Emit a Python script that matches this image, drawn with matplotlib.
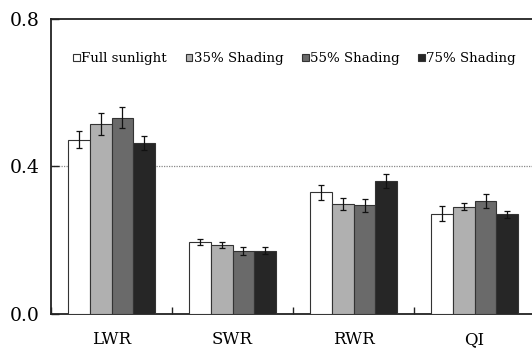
import matplotlib.pyplot as plt
import numpy as np

plt.rcParams["font.family"] = ["DejaVu Serif"]

# Root trait ratios under four light treatments
traits = ["LWR", "SWR", "RWR", "QI"]
treatments = ["Full sunlight", "35% Shading", "55% Shading", "75% Shading"]
means = {
    "Full sunlight": [0.473, 0.195, 0.330, 0.272],
    "35% Shading": [0.515, 0.187, 0.298, 0.291],
    "55% Shading": [0.532, 0.172, 0.295, 0.307],
    "75% Shading": [0.465, 0.172, 0.362, 0.270],
}
errors = {
    "Full sunlight": [0.022, 0.009, 0.020, 0.020],
    "35% Shading": [0.030, 0.009, 0.017, 0.010],
    "55% Shading": [0.028, 0.011, 0.018, 0.019],
    "75% Shading": [0.019, 0.009, 0.019, 0.009],
}
colors = ["#ffffff", "#b0b0b0", "#6a6a6a", "#262626"]


def setup_plot():
    fig = plt.figure(figsize=(5.32, 3.51), dpi=100)
    ax = fig.add_axes([0.0959, 0.1054, 0.9101, 0.8405])
    return fig, ax


if __name__ == "__main__":
    fig, ax = setup_plot()

    x = np.arange(len(traits))
    width = 0.18
    for i, (name, c) in enumerate(zip(treatments, colors)):
        pos = x + (i - 1.5) * width
        ax.bar(pos, means[name], width, color=c, edgecolor="#333333",
               linewidth=0.8, label=name, zorder=3)
        ax.errorbar(pos, means[name], yerr=errors[name], fmt="none",
                    ecolor="#111111", elinewidth=0.9, capsize=2.5,
                    capthick=0.9, zorder=4)

    ax.set_xlim(-0.5, 3.5)
    ax.set_ylim(0, 0.8)

    # group separators as inward ticks, labels on the group centres
    ax.set_xticks(np.arange(-0.5, 3.6, 1.0))
    ax.set_xticklabels([])
    ax.tick_params(axis="x", which="major", direction="in", length=5,
                   width=1.0, color="#222222")
    ax.set_xticks(x, minor=True)
    ax.set_xticklabels(traits, minor=True, fontsize=12)
    ax.tick_params(axis="x", which="minor", length=0, pad=12)

    ax.set_yticks([0.0, 0.4, 0.8])
    ax.set_yticklabels(["0.0", "0.4", "0.8"], fontsize=13.5)
    ax.tick_params(axis="y", direction="in", length=6, width=1.0,
                   color="#222222", pad=8)

    ax.axhline(0.4, color="#888888", linestyle=(0, (1, 1)), linewidth=0.9,
               zorder=1)

    for side in ["left", "bottom", "top"]:
        ax.spines[side].set_linewidth(1.3)
        ax.spines[side].set_color("#222222")
    ax.spines["right"].set_visible(False)

    ax.legend(loc="upper left", bbox_to_anchor=(0.035, 0.905), ncol=4,
              frameon=False, fontsize=9.6, handlelength=0.5,
              handleheight=0.5, handletextpad=0.1, columnspacing=1.4,
              borderaxespad=0)

    plt.savefig("out.png", dpi=100)
